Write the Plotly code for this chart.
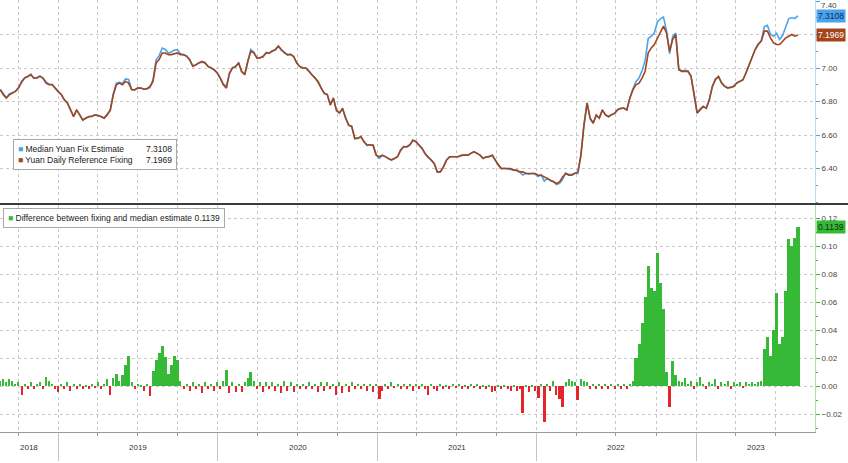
import pandas as pd
import plotly.graph_objects as go

start_date = "2018-08-21"

fixing = [
    6.87, 6.84, 6.82, 6.84, 6.85, 6.86, 6.88, 6.92, 6.94, 6.95,
    6.96, 6.94, 6.94, 6.95, 6.94, 6.91, 6.90, 6.90, 6.88, 6.86,
    6.84, 6.81, 6.79, 6.75, 6.71, 6.75, 6.72, 6.69, 6.70, 6.71,
    6.71, 6.72, 6.715, 6.71, 6.70, 6.72, 6.75, 6.84, 6.90, 6.91,
    6.90, 6.92, 6.91, 6.87, 6.87, 6.88, 6.88, 6.875, 6.875, 6.89,
    6.92, 7.03, 7.05, 7.09, 7.09, 7.08, 7.08, 7.085, 7.09, 7.08,
    7.08, 7.07, 7.05, 7.01, 7.02, 7.03, 7.04, 7.03, 7.01, 7.00,
    6.99, 6.97, 6.94, 6.90, 6.88, 6.97, 7.00, 7.01, 7.03, 6.98,
    6.96, 7.04, 7.10, 7.09, 7.06, 7.06, 7.07, 7.09, 7.09, 7.10,
    7.11, 7.13, 7.11, 7.09, 7.08, 7.08, 7.07, 7.03, 7.01, 7.00,
    7.00, 6.98, 6.96, 6.94, 6.92, 6.88, 6.85, 6.84, 6.78, 6.82,
    6.75, 6.73, 6.76, 6.70, 6.66, 6.65, 6.58, 6.58, 6.59, 6.56,
    6.54, 6.54, 6.54, 6.48, 6.47, 6.48, 6.47, 6.46, 6.45, 6.46,
    6.47, 6.51, 6.53, 6.53, 6.54, 6.57, 6.56, 6.54, 6.52, 6.49,
    6.47, 6.45, 6.43, 6.38, 6.38, 6.41, 6.45, 6.47, 6.47, 6.47,
    6.47, 6.48, 6.48, 6.48, 6.49, 6.50, 6.49, 6.48, 6.46, 6.47,
    6.47, 6.48, 6.45, 6.42, 6.40, 6.40, 6.40, 6.40, 6.39, 6.39,
    6.38, 6.38, 6.37, 6.37, 6.37, 6.37, 6.36, 6.36, 6.35, 6.34,
    6.33, 6.32, 6.31, 6.32, 6.35, 6.37, 6.36, 6.36, 6.37, 6.38,
    6.48, 6.66, 6.79, 6.70, 6.67, 6.72, 6.70, 6.75, 6.72, 6.71,
    6.72, 6.73, 6.75, 6.76, 6.76, 6.75, 6.82, 6.87, 6.90, 6.91,
    6.94, 6.98, 7.09, 7.12, 7.14, 7.18, 7.22, 7.25, 7.21, 7.10,
    7.17, 7.20, 6.99, 6.98, 6.98, 6.98, 6.95, 6.85, 6.73, 6.75,
    6.77, 6.76, 6.81, 6.89, 6.93, 6.95, 6.91, 6.89, 6.88, 6.885,
    6.89, 6.91, 6.92, 6.93, 6.97, 7.02, 7.07, 7.11, 7.14, 7.16,
    7.22, 7.22, 7.18, 7.15, 7.14, 7.14, 7.16, 7.18, 7.19, 7.20,
    7.19, 7.1969,
]

difference = [
    0.004, 0.005, 0.003, 0.005, 0.004, 0.002, 0.003, -0.006, 0.002, -0.002,
    0.003, -0.002, 0.002, 0.003, -0.002, 0.007, 0.004, 0.002, -0.002, -0.004,
    0.002, -0.002, 0.003, -0.003, 0.002, -0.002, 0.002, -0.002, 0.001, -0.002,
    0.002, -0.001, 0.003, -0.002, 0.002, 0.005, -0.006, 0.006, 0.009, 0.004,
    0.008, 0.015, 0.022, 0.003, -0.002, 0.002, 0.001, -0.003, 0.002, -0.007,
    0.011, 0.019, 0.024, 0.029, 0.021, 0.009, 0.015, 0.022, 0.019, 0.004,
    -0.002, 0.002, -0.003, 0.003, -0.002, 0.002, -0.005, 0.003, -0.002, 0.002,
    -0.003, 0.003, -0.002, 0.004, 0.012, -0.005, 0.003, -0.004, 0.002, -0.004,
    0.003, 0.006, 0.010, 0.004, -0.002, 0.003, -0.004, 0.003, -0.002, 0.003,
    -0.003, 0.002, -0.005, 0.004, -0.003, 0.003, -0.004, 0.002, -0.002, 0.002,
    -0.002, 0.003, -0.002, 0.002, -0.004, 0.003, -0.003, 0.003, -0.002, 0.002,
    -0.006, 0.003, -0.005, 0.002, -0.004, 0.003, -0.002, 0.002, -0.002, 0.002,
    -0.003, 0.002, -0.004, 0.002, -0.009, -0.003, 0.002, -0.002, 0.003, -0.001,
    0.002, -0.002, 0.002, -0.002, 0.002, -0.003, 0.002, -0.002, 0.002, -0.002,
    -0.006, 0.002, -0.002, -0.003, 0.002, -0.002, 0.001, -0.002, 0.002, -0.001,
    0.002, -0.002, 0.001, -0.002, 0.002, -0.001, 0.002, -0.002, 0.001, -0.002,
    0.001, -0.004, -0.003, 0.001, -0.002, 0.001, -0.002, -0.003, 0.001, -0.003,
    -0.002, -0.019, 0.001, -0.004, 0.001, -0.003, -0.008, 0.002, -0.025, 0.002,
    -0.003, 0.004, -0.006, -0.009, -0.015, 0.003, 0.005, 0.004, 0.003, -0.010,
    0.005, 0.004, 0.003, -0.002, 0.002, -0.002, 0.002, -0.002, 0.002, -0.002,
    0.002, -0.002, 0.002, -0.002, 0.002, -0.002, 0.002, 0.004, 0.020, 0.030,
    0.045, 0.064, 0.086, 0.070, 0.068, 0.095, 0.074, 0.055, 0.010, -0.015,
    0.018, 0.008, 0.004, 0.003, 0.006, 0.002, 0.004, -0.002, 0.003, 0.007,
    0.002, -0.002, 0.003, 0.002, 0.005, -0.002, 0.003, 0.002, 0.004, -0.002,
    0.003, 0.002, 0.003, -0.001, 0.003, 0.002, 0.003, 0.002, 0.003, 0.004,
    0.027, 0.035, 0.022, 0.040, 0.067, 0.030, 0.035, 0.068, 0.105, 0.100,
    0.106, 0.1139,
]

# the median estimate is the fixing plus the (estimate - fixing) difference
median_estimate = [round(f + d, 4) for f, d in zip(fixing, difference)]
dates = pd.date_range(start_date, periods=len(fixing), freq="7D")

year_labels = ["2018", "2019", "2020", "2021", "2022", "2023"]
year_label_dates = ["2018-10-26", "2019-07-02", "2020-07-02", "2021-07-02", "2022-07-02", "2023-05-17"]

top_ticks = [6.4, 6.6, 6.8, 7.0, 7.2, 7.4]
top_tick_text = ["6.40", "6.60", "6.80", "7.00", "", ""]   # 7.20 sits under the value tags
top_edge_label = "7.40"
bottom_ticks = [-0.02, 0.0, 0.02, 0.04, 0.06, 0.08, 0.10, 0.12]

# ---------------- styling ----------------
FONT = "Liberation Sans"
BLUE = "#4aa3ee"
BROWN = "#a3441b"
GREEN = "#36b936"
RED = "#e3262b"
GRID = "#c9c9c9"

W, H = 848, 463
PLOT_W = 815
PLOT_BOTTOM = 432
x_range = ["2018-08-20 12:00", "2023-09-30"]
DAY_MS = 86400000

fig = go.Figure()

fig.add_trace(go.Scatter(x=dates, y=median_estimate, mode="lines",
                         line=dict(color=BLUE, width=1.6), name="Median Yuan Fix Estimate",
                         xaxis="x", yaxis="y", showlegend=False))
fig.add_trace(go.Scatter(x=dates, y=fixing, mode="lines",
                         line=dict(color=BROWN, width=1.6), name="Yuan Daily Reference Fixing",
                         xaxis="x", yaxis="y", showlegend=False))

bar_colors = [GREEN if v >= 0 else RED for v in difference]
bar_widths = [7 * DAY_MS if abs(v) >= 0.008 else 2.6 * DAY_MS for v in difference]
fig.add_trace(go.Bar(x=dates, y=difference, marker=dict(color=bar_colors, line=dict(width=0)),
                     width=bar_widths, name="Difference between fixing and median estimate",
                     xaxis="x2", yaxis="y2", showlegend=False))

top_dom = [1 - 203 / PLOT_BOTTOM, 1]
bot_dom = [0, 1 - 205 / PLOT_BOTTOM]

fig.update_layout(
    width=W, height=H,
    margin=dict(l=0, r=W - PLOT_W, t=0, b=H - PLOT_BOTTOM),
    paper_bgcolor="white", plot_bgcolor="white",
    font=dict(family=FONT, size=8, color="#444"),
    showlegend=False,
    bargap=0,
    xaxis=dict(domain=[0, 1], anchor="y", type="date", range=x_range,
               showgrid=True, gridcolor=GRID, griddash="dot", gridwidth=1,
               dtick="M3", tick0="2019-01-01", showticklabels=False, ticks="",
               zeroline=False, showline=False),
    xaxis2=dict(domain=[0, 1], anchor="y2", type="date", range=x_range, matches="x",
                showgrid=True, gridcolor=GRID, griddash="dot", gridwidth=1,
                dtick="M12", tick0="2019-01-01", showticklabels=False,
                ticks="outside", ticklen=28, tickcolor="#c4c4c4", tickwidth=1,
                minor=dict(dtick="M3", showgrid=True, gridcolor=GRID, griddash="dot",
                           ticks="outside", ticklen=3, tickcolor="#9a9a9a"),
                showline=True, linecolor="#9a9a9a", linewidth=1, zeroline=False),
    yaxis=dict(domain=top_dom, anchor="x", side="right", range=[6.194, 7.406],
               tickmode="array", tickvals=top_ticks, ticktext=top_tick_text,
               ticks="outside", ticklen=4, tickcolor=BLUE,
               minor=dict(dtick=0.1, tick0=6.2, ticks="outside", ticklen=2, tickcolor=BLUE),
               showline=True, linecolor="#b7daf7", linewidth=1,
               showgrid=True, gridcolor=GRID, griddash="dot", zeroline=False,
               tickfont=dict(size=8, color="#444", family=FONT)),
    yaxis2=dict(domain=bot_dom, anchor="x2", side="right", range=[-0.0325, 0.1296],
                tickmode="array", tickvals=bottom_ticks, tickformat=".2f",
                ticks="outside", ticklen=4, tickcolor=GREEN,
                minor=dict(dtick=0.01, tick0=0, ticks="outside", ticklen=2, tickcolor=GREEN),
                showline=True, linecolor="#a9e0a9", linewidth=1,
                showgrid=True, gridcolor=GRID, griddash="dot", zeroline=False,
                tickfont=dict(size=8, color="#444", family=FONT)),
)

# top-edge axis label (sits at the very top of the plot area)
fig.add_annotation(xref="paper", yref="paper", x=1, y=1, xanchor="left", yanchor="top",
                   xshift=4, yshift=1, text=top_edge_label, showarrow=False,
                   font=dict(size=8, color="#444", family=FONT))

# dark separator between the panels
sep_y = 1 - 204 / PLOT_BOTTOM
fig.add_shape(type="line", xref="paper", yref="paper", x0=0, x1=W / PLOT_W, y0=sep_y, y1=sep_y,
              line=dict(color="#3a3a3a", width=2))

# year labels
for lab, d in zip(year_labels, year_label_dates):
    fig.add_annotation(x=d, xref="x2", y=-(447 - PLOT_BOTTOM) / PLOT_BOTTOM, yref="paper",
                       text=lab, showarrow=False, xanchor="center", yanchor="middle",
                       font=dict(size=8, color="#333", family=FONT))

# value tags on the right axis
tags = [
    (median_estimate[-1], "y", BLUE, "#0c2a55"),
    (fixing[-1], "y", BROWN, "#ffffff"),
    (difference[-1], "y2", GREEN, "#06300a"),
]
for val, yref, bg, fc in tags:
    fig.add_annotation(xref="paper", x=1, xanchor="left", xshift=1, y=val, yref=yref,
                       yanchor="middle", text=f"{val:.4f}", showarrow=False, bgcolor=bg,
                       borderpad=1, font=dict(size=8.5, color=fc, family=FONT))

# legend boxes
LEG_FONT = dict(size=8.5, color="#222", family=FONT)
top_leg_y = 1 - 139 / PLOT_BOTTOM
fig.add_annotation(
    xref="paper", yref="paper", x=13 / PLOT_W, y=top_leg_y, xanchor="left", yanchor="top",
    text=(f"<span style='color:{BLUE}'>■</span> Median Yuan Fix Estimate<br>"
          f"<span style='color:{BROWN}'>■</span> Yuan Daily Reference Fixing"),
    align="left", width=154, showarrow=False, bgcolor="white",
    bordercolor="#a8a8a8", borderwidth=1, borderpad=4, font=LEG_FONT)
fig.add_annotation(
    xref="paper", yref="paper", x=177 / PLOT_W, y=top_leg_y, xanchor="right", yanchor="top",
    text=f"{median_estimate[-1]:.4f}<br>{fixing[-1]:.4f}",
    align="right", showarrow=False, bordercolor="rgba(0,0,0,0)", borderwidth=1, borderpad=4,
    font=LEG_FONT)
fig.add_annotation(
    xref="paper", yref="paper", x=3 / PLOT_W, y=1 - 208 / PLOT_BOTTOM, xanchor="left", yanchor="top",
    text=(f"<span style='color:{GREEN}'>■</span> Difference between fixing and median estimate "
          f"{difference[-1]:.4f}"),
    align="left", showarrow=False, bgcolor="white",
    bordercolor="#a8a8a8", borderwidth=1, borderpad=4, font=LEG_FONT)

fig.write_html("out.html", config={"displayModeBar": False},
               post_script="document.body.style.margin='0';document.body.style.overflow='hidden';")
